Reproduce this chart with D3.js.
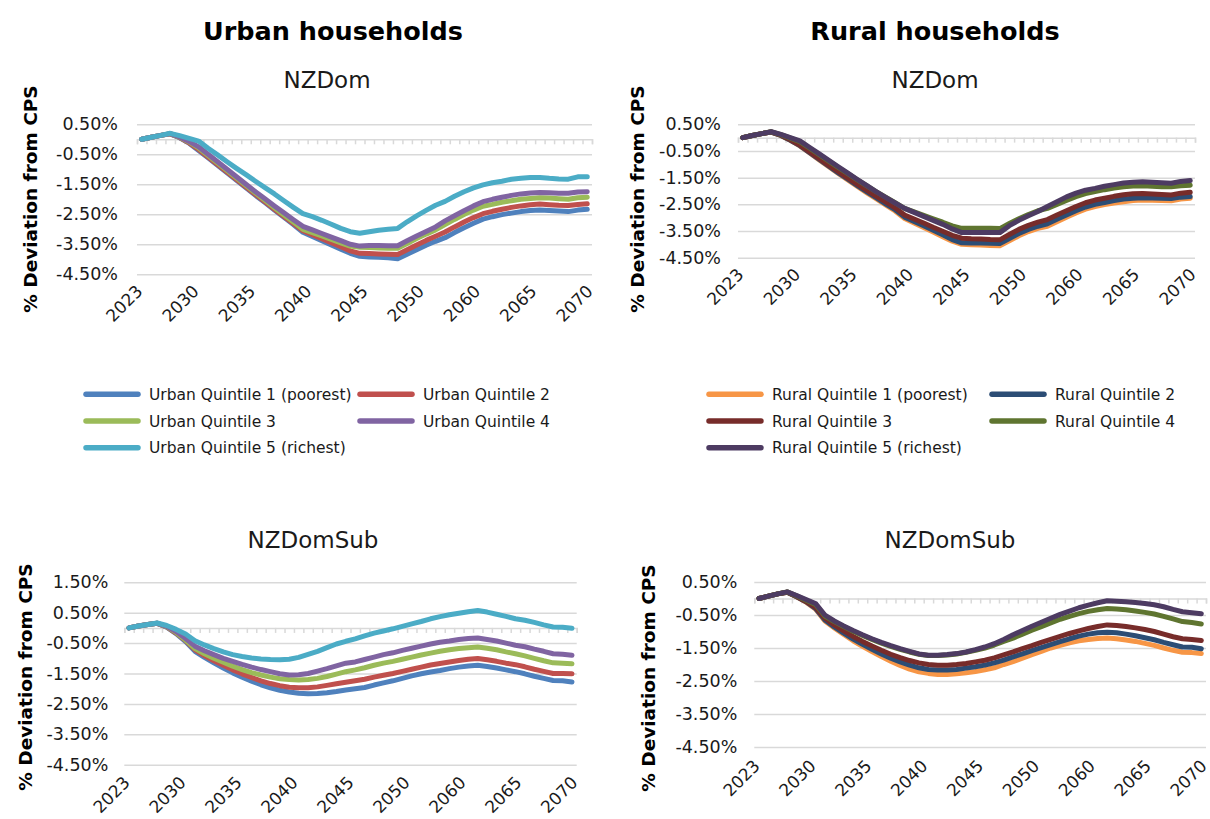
<!DOCTYPE html>
<html>
<head>
<meta charset="utf-8">
<script src="https://cdn.jsdelivr.net/npm/d3@7"></script>
<style>
  body { margin: 0; background: #fff; }
  svg { font-family: "DejaVu Sans", sans-serif; }
</style>
</head>
<body>
<svg id="chart" width="1210" height="819"></svg>
<script>
// categories (one point per period) and the labels Excel showed under them
const periods = [2023, 2024, 2025, 2026, 2027, 2028, 2029, 2030, 2031, 2032, 2033, 2034,
  2035, 2036, 2037, 2038, 2039, 2040, 2041, 2042, 2043, 2044, 2045, 2046,
  2047, 2048, 2049, 2050, 2051, 2052, 2053, 2054, 2055, 2056, 2057, 2058,
  2059, 2060, 2061, 2062, 2063, 2064, 2065, 2066, 2067, 2068, 2069, 2070];
const tickLabels = ["2023", "2030", "2035", "2040", "2045", "2050", "2060", "2065", "2070"];

const urbanNames = ["Urban Quintile 1 (poorest)", "Urban Quintile 2", "Urban Quintile 3", "Urban Quintile 4", "Urban Quintile 5 (richest)"];
const ruralNames = ["Rural Quintile 1 (poorest)", "Rural Quintile 2", "Rural Quintile 3", "Rural Quintile 4", "Rural Quintile 5 (richest)"];
const urbanColours = ["#4f81bd", "#c0504d", "#9bbb59", "#8064a2", "#4bacc6"];
const ruralColours = ["#f79646", "#2c4d75", "#772c2a", "#5f7530", "#4d3b62"];

// % deviation from CPS, NZDom scenario, urban
const urbanDomQ1 = [0, 0.07, 0.13, 0.18, 0.05, -0.13, -0.37, -0.62, -0.87, -1.12, -1.37, -1.62,
  -1.87, -2.11, -2.36, -2.60, -2.84, -3.10, -3.24, -3.38, -3.52, -3.66, -3.80, -3.90,
  -3.92, -3.93, -3.95, -3.98, -3.83, -3.68, -3.53, -3.40, -3.28, -3.11, -2.95, -2.80,
  -2.66, -2.58, -2.51, -2.46, -2.41, -2.37, -2.36, -2.37, -2.39, -2.41, -2.36, -2.33];
const urbanDomQ2 = [0, 0.07, 0.13, 0.18, 0.06, -0.12, -0.34, -0.59, -0.84, -1.09, -1.34, -1.59,
  -1.84, -2.08, -2.33, -2.57, -2.81, -3.05, -3.18, -3.31, -3.45, -3.58, -3.72, -3.80,
  -3.81, -3.82, -3.83, -3.84, -3.68, -3.52, -3.37, -3.23, -3.09, -2.92, -2.76, -2.61,
  -2.48, -2.40, -2.33, -2.27, -2.22, -2.18, -2.16, -2.18, -2.20, -2.21, -2.17, -2.15];
const urbanDomQ3 = [0, 0.07, 0.13, 0.19, 0.07, -0.09, -0.29, -0.54, -0.79, -1.04, -1.29, -1.54,
  -1.79, -2.03, -2.28, -2.52, -2.76, -3.00, -3.11, -3.22, -3.34, -3.45, -3.56, -3.60,
  -3.61, -3.62, -3.63, -3.63, -3.47, -3.31, -3.16, -3.02, -2.84, -2.67, -2.51, -2.36,
  -2.23, -2.17, -2.10, -2.05, -2.00, -1.97, -1.95, -1.96, -1.98, -2.00, -1.95, -1.93];
const urbanDomQ4 = [0, 0.07, 0.13, 0.19, 0.08, -0.07, -0.25, -0.50, -0.75, -1.00, -1.25, -1.50,
  -1.75, -1.98, -2.22, -2.45, -2.68, -2.90, -3.02, -3.14, -3.26, -3.38, -3.50, -3.56,
  -3.54, -3.54, -3.55, -3.55, -3.38, -3.22, -3.07, -2.92, -2.72, -2.55, -2.38, -2.22,
  -2.08, -2.00, -1.93, -1.87, -1.82, -1.79, -1.77, -1.78, -1.80, -1.80, -1.76, -1.75];
const urbanDomQ5 = [0, 0.07, 0.13, 0.20, 0.12, 0.03, -0.06, -0.30, -0.52, -0.75, -0.97, -1.18,
  -1.40, -1.61, -1.82, -2.05, -2.27, -2.48, -2.58, -2.70, -2.83, -2.97, -3.08, -3.13,
  -3.08, -3.03, -3.00, -2.97, -2.75, -2.55, -2.37, -2.20, -2.07, -1.90, -1.75, -1.62,
  -1.52, -1.45, -1.40, -1.33, -1.30, -1.27, -1.27, -1.30, -1.32, -1.33, -1.25, -1.25];

// NZDom scenario, rural
const ruralDomQ1 = [0, 0.08, 0.15, 0.21, 0.08, -0.10, -0.31, -0.57, -0.83, -1.08, -1.33, -1.58,
  -1.82, -2.06, -2.29, -2.52, -2.75, -3.03, -3.20, -3.37, -3.54, -3.71, -3.88, -4.00,
  -4.01, -4.02, -4.04, -4.05, -3.87, -3.68, -3.52, -3.40, -3.32, -3.15, -2.98, -2.82,
  -2.68, -2.58, -2.51, -2.45, -2.40, -2.36, -2.34, -2.35, -2.36, -2.37, -2.30, -2.27];
const ruralDomQ2 = [0, 0.08, 0.15, 0.21, 0.08, -0.10, -0.30, -0.56, -0.81, -1.06, -1.31, -1.55,
  -1.79, -2.02, -2.25, -2.48, -2.70, -2.98, -3.14, -3.30, -3.47, -3.64, -3.82, -3.94,
  -3.95, -3.95, -3.96, -3.97, -3.78, -3.59, -3.44, -3.32, -3.23, -3.06, -2.90, -2.74,
  -2.60, -2.50, -2.43, -2.36, -2.30, -2.27, -2.25, -2.26, -2.27, -2.28, -2.23, -2.21];
const ruralDomQ3 = [0, 0.08, 0.15, 0.21, 0.09, -0.08, -0.28, -0.53, -0.78, -1.03, -1.27, -1.51,
  -1.74, -1.97, -2.19, -2.41, -2.63, -2.90, -3.05, -3.20, -3.36, -3.51, -3.66, -3.77,
  -3.79, -3.80, -3.82, -3.83, -3.63, -3.44, -3.29, -3.17, -3.07, -2.90, -2.74, -2.58,
  -2.44, -2.34, -2.27, -2.20, -2.14, -2.10, -2.09, -2.11, -2.13, -2.15, -2.08, -2.05];
const ruralDomQ4 = [0, 0.08, 0.15, 0.22, 0.11, -0.02, -0.15, -0.39, -0.63, -0.87, -1.11, -1.34,
  -1.57, -1.80, -2.02, -2.23, -2.44, -2.65, -2.78, -2.91, -3.04, -3.17, -3.31, -3.40,
  -3.40, -3.40, -3.40, -3.41, -3.22, -3.04, -2.88, -2.74, -2.65, -2.50, -2.35, -2.21,
  -2.10, -2.02, -1.95, -1.89, -1.84, -1.81, -1.80, -1.82, -1.84, -1.84, -1.80, -1.78];
const ruralDomQ5 = [0, 0.08, 0.15, 0.22, 0.12, 0.00, -0.12, -0.36, -0.60, -0.84, -1.08, -1.32,
  -1.56, -1.79, -2.02, -2.24, -2.45, -2.65, -2.80, -2.95, -3.10, -3.25, -3.42, -3.56,
  -3.56, -3.56, -3.56, -3.56, -3.30, -3.10, -2.93, -2.77, -2.58, -2.40, -2.22, -2.08,
  -1.97, -1.90, -1.82, -1.76, -1.70, -1.67, -1.65, -1.67, -1.69, -1.71, -1.64, -1.61];

// NZDomSub scenario, urban
const urbanSubQ1 = [0, 0.06, 0.11, 0.15, 0.02, -0.19, -0.45, -0.77, -0.97, -1.15, -1.32, -1.48,
  -1.62, -1.75, -1.87, -1.97, -2.05, -2.11, -2.15, -2.17, -2.16, -2.13, -2.09, -2.04,
  -2.00, -1.96, -1.88, -1.81, -1.74, -1.66, -1.58, -1.51, -1.45, -1.40, -1.34, -1.29,
  -1.25, -1.23, -1.27, -1.32, -1.38, -1.44, -1.51, -1.59, -1.66, -1.73, -1.74, -1.78];
const urbanSubQ2 = [0, 0.06, 0.11, 0.15, 0.03, -0.17, -0.42, -0.72, -0.91, -1.08, -1.23, -1.38,
  -1.51, -1.63, -1.74, -1.83, -1.90, -1.95, -1.97, -1.97, -1.94, -1.89, -1.84, -1.79,
  -1.74, -1.69, -1.62, -1.56, -1.50, -1.43, -1.36, -1.29, -1.22, -1.17, -1.12, -1.07,
  -1.03, -1.01, -1.05, -1.10, -1.16, -1.21, -1.28, -1.36, -1.43, -1.50, -1.50, -1.51];
const urbanSubQ3 = [0, 0.06, 0.11, 0.15, 0.04, -0.15, -0.40, -0.68, -0.85, -1.00, -1.13, -1.26,
  -1.37, -1.47, -1.55, -1.62, -1.67, -1.70, -1.71, -1.70, -1.66, -1.60, -1.52, -1.44,
  -1.38, -1.31, -1.23, -1.16, -1.10, -1.03, -0.96, -0.89, -0.83, -0.77, -0.72, -0.68,
  -0.65, -0.63, -0.67, -0.72, -0.79, -0.85, -0.92, -1.00, -1.08, -1.15, -1.16, -1.18];
const urbanSubQ4 = [0, 0.06, 0.11, 0.15, 0.05, -0.12, -0.35, -0.60, -0.75, -0.88, -1.00, -1.10,
  -1.20, -1.29, -1.37, -1.44, -1.51, -1.55, -1.54, -1.50, -1.42, -1.34, -1.25, -1.16,
  -1.12, -1.04, -0.96, -0.88, -0.82, -0.74, -0.67, -0.60, -0.53, -0.47, -0.43, -0.38,
  -0.35, -0.33, -0.38, -0.43, -0.50, -0.57, -0.62, -0.70, -0.77, -0.85, -0.87, -0.90];
const urbanSubQ5 = [0, 0.06, 0.11, 0.16, 0.08, -0.05, -0.20, -0.42, -0.56, -0.68, -0.79, -0.88,
  -0.94, -0.99, -1.02, -1.04, -1.05, -1.03, -0.97, -0.87, -0.77, -0.65, -0.53, -0.44,
  -0.36, -0.26, -0.17, -0.10, -0.03, 0.05, 0.13, 0.21, 0.30, 0.37, 0.43, 0.48,
  0.53, 0.57, 0.52, 0.45, 0.38, 0.30, 0.25, 0.18, 0.10, 0.03, 0.02, -0.01];

// NZDomSub scenario, rural
const ruralSubQ1 = [0, 0.07, 0.14, 0.19, 0.05, -0.11, -0.32, -0.68, -0.89, -1.09, -1.28, -1.45,
  -1.61, -1.76, -1.90, -2.03, -2.14, -2.22, -2.27, -2.30, -2.30, -2.28, -2.25, -2.21,
  -2.16, -2.10, -2.00, -1.91, -1.81, -1.70, -1.60, -1.50, -1.42, -1.34, -1.28, -1.24,
  -1.21, -1.20, -1.22, -1.26, -1.30, -1.36, -1.42, -1.50, -1.57, -1.63, -1.64, -1.67];
const ruralSubQ2 = [0, 0.07, 0.14, 0.19, 0.05, -0.10, -0.30, -0.65, -0.86, -1.05, -1.23, -1.39,
  -1.54, -1.68, -1.81, -1.92, -2.02, -2.10, -2.15, -2.17, -2.17, -2.15, -2.11, -2.07,
  -2.02, -1.95, -1.87, -1.77, -1.68, -1.58, -1.49, -1.40, -1.31, -1.22, -1.14, -1.08,
  -1.04, -1.02, -1.04, -1.08, -1.13, -1.19, -1.25, -1.33, -1.40, -1.47, -1.48, -1.52];
const ruralSubQ3 = [0, 0.07, 0.14, 0.19, 0.06, -0.09, -0.27, -0.60, -0.80, -0.98, -1.15, -1.30,
  -1.44, -1.57, -1.69, -1.79, -1.88, -1.95, -2.00, -2.02, -2.02, -2.00, -1.97, -1.92,
  -1.87, -1.80, -1.71, -1.62, -1.52, -1.43, -1.33, -1.24, -1.15, -1.06, -0.98, -0.91,
  -0.85, -0.80, -0.82, -0.85, -0.89, -0.94, -1.00, -1.08, -1.16, -1.22, -1.24, -1.27];
const ruralSubQ4 = [0, 0.07, 0.14, 0.20, 0.08, -0.05, -0.18, -0.53, -0.70, -0.85, -0.99, -1.12,
  -1.24, -1.35, -1.45, -1.54, -1.62, -1.69, -1.73, -1.73, -1.71, -1.68, -1.63, -1.57,
  -1.50, -1.41, -1.30, -1.20, -1.08, -0.96, -0.85, -0.74, -0.63, -0.54, -0.46, -0.39,
  -0.34, -0.30, -0.32, -0.34, -0.38, -0.42, -0.47, -0.54, -0.62, -0.70, -0.73, -0.77];
const ruralSubQ5 = [0, 0.07, 0.14, 0.20, 0.09, -0.03, -0.15, -0.50, -0.68, -0.83, -0.97, -1.10,
  -1.22, -1.33, -1.43, -1.52, -1.60, -1.68, -1.72, -1.72, -1.70, -1.67, -1.62, -1.55,
  -1.47, -1.37, -1.24, -1.10, -0.97, -0.84, -0.72, -0.60, -0.48, -0.38, -0.28, -0.20,
  -0.13, -0.07, -0.08, -0.10, -0.12, -0.15, -0.19, -0.25, -0.33, -0.40, -0.43, -0.46];

const svg = d3.select("#chart");
const gridColour = "#d9d9d9";
const textColour = "#1a1a1a";

// headings
svg.append("text").attr("x", 333).attr("y", 40).attr("text-anchor", "middle")
  .style("font-size", "25.5px").style("font-weight", "bold").attr("fill", "#000")
  .text("Urban households");
svg.append("text").attr("x", 935).attr("y", 40).attr("text-anchor", "middle")
  .style("font-size", "25.5px").style("font-weight", "bold").attr("fill", "#000")
  .text("Rural households");

const panels = [
  { name: "NZDom", series: [urbanDomQ1, urbanDomQ2, urbanDomQ3, urbanDomQ4, urbanDomQ5], colours: urbanColours,
    left: 137, right: 592, top: 124.3, bottom: 274.3, yMax: 0.5, pad: 19, labelOff: 18,
    titleX: 327, titleY: 88, axisX: 37, axisY: 199 },
  { name: "NZDom", series: [ruralDomQ1, ruralDomQ2, ruralDomQ3, ruralDomQ4, ruralDomQ5], colours: ruralColours,
    left: 738, right: 1195, top: 124.3, bottom: 257.7, yMax: 0.5, pad: 17, labelOff: 18,
    titleX: 935, titleY: 88, axisX: 644, axisY: 199 },
  { name: "NZDomSub", series: [urbanSubQ1, urbanSubQ2, urbanSubQ3, urbanSubQ4, urbanSubQ5], colours: urbanColours,
    left: 124.3, right: 576.7, top: 582.3, bottom: 764.7, yMax: 1.5, pad: 16, labelOff: 19,
    titleX: 313, titleY: 548, axisX: 32, axisY: 677 },
  { name: "NZDomSub", series: [ruralSubQ1, ruralSubQ2, ruralSubQ3, ruralSubQ4, ruralSubQ5], colours: ruralColours,
    left: 754.3, right: 1206, top: 582, bottom: 747, yMax: 0.5, pad: 17, labelOff: 20,
    titleX: 950, titleY: 548, axisX: 655, axisY: 678 }
];

panels.forEach(drawPanel);

function drawPanel(p) {
  const g = svg.append("g");

  const x = d3.scalePoint().domain(periods).range([p.left, p.right]).padding(0.5);
  const edge = d3.scaleLinear().domain([0, periods.length]).range([p.left, p.right]);
  const y = d3.scaleLinear().domain([-4.5, p.yMax]).range([p.bottom, p.top]);
  const yTicks = d3.range(-4.5, p.yMax + 0.001, 1);

  // panel title
  g.append("text").attr("x", p.titleX).attr("y", p.titleY).attr("text-anchor", "middle")
    .style("font-size", "23px").attr("fill", textColour).text(p.name);

  // y title
  g.append("text")
    .attr("transform", `translate(${p.axisX},${p.axisY}) rotate(-90)`)
    .attr("text-anchor", "middle")
    .style("font-size", "18.5px").style("font-weight", "bold").attr("fill", "#000")
    .text("% Deviation from CPS");

  // gridlines + y labels
  const yAxis = g.append("g")
    .attr("transform", `translate(${p.left},0)`)
    .call(d3.axisLeft(y).tickValues(yTicks)
      .tickSize(-(p.right - p.left)).tickPadding(p.pad)
      .tickFormat(d => d.toFixed(2) + "%"));
  yAxis.select(".domain").remove();
  yAxis.selectAll("line").attr("stroke", gridColour).attr("stroke-width", 1.5);
  yAxis.selectAll("text").attr("fill", textColour)
    .style("font-size", "17.5px").style("font-family", "'DejaVu Sans', sans-serif");

  // category axis sits on the zero line, with minor ticks between periods
  const zero = g.append("g")
    .attr("transform", `translate(0,${y(0)})`)
    .call(d3.axisBottom(edge).tickValues(d3.range(periods.length + 1))
      .tickSize(5).tickSizeOuter(5).tickFormat(""));
  zero.select(".domain").attr("stroke", gridColour).attr("stroke-width", 1.5);
  zero.selectAll("line").attr("stroke", gridColour).attr("stroke-width", 1.5);

  // category labels, rotated, along the bottom
  const xl = d3.scalePoint().domain(tickLabels).range([x(periods[0]), p.right]);
  g.append("g").selectAll("text")
    .data(tickLabels)
    .join("text")
      .attr("transform", d => `translate(${xl(d) + 2},${p.bottom + p.labelOff}) rotate(-45)`)
      .attr("text-anchor", "end")
      .style("font-size", "17px")
      .attr("fill", textColour)
      .text(d => d);

  // series lines (quintile 1 drawn first, quintile 5 on top)
  const line = d3.line()
    .x((d, i) => x(periods[i]))
    .y(d => y(d));

  g.append("g").selectAll("path")
    .data(p.series)
    .join("path")
      .attr("fill", "none")
      .attr("stroke", (d, i) => p.colours[i])
      .attr("stroke-width", 5)
      .attr("stroke-linejoin", "round")
      .attr("stroke-linecap", "round")
      .attr("d", line);
}

// legends
function drawLegend(names, colours, cols, rowY) {
  const items = svg.append("g").selectAll("g")
    .data(names)
    .join("g")
      .attr("transform", (d, i) => `translate(${cols[i % 2]},${rowY[Math.floor(i / 2)]})`);

  items.append("line")
    .attr("x1", 0).attr("x2", 52)
    .attr("stroke", (d, i) => colours[i])
    .attr("stroke-width", 5.5)
    .attr("stroke-linecap", "round");

  items.append("text")
    .attr("x", 63).attr("dy", "0.36em")
    .style("font-size", "15.5px")
    .attr("fill", textColour)
    .text(d => d);
}

drawLegend(urbanNames, urbanColours, [86, 360], [394.3, 421, 447.7]);
drawLegend(ruralNames, ruralColours, [709, 992], [394.3, 421, 447.7]);
</script>
</body>
</html>
